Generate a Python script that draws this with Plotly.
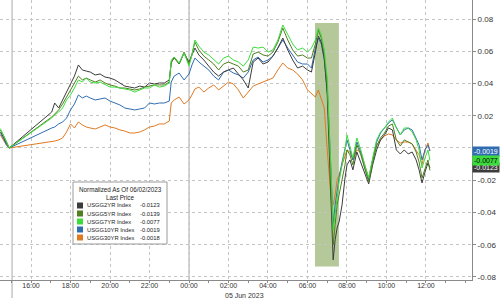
import plotly.graph_objects as go

# ---------------- data ----------------
# time in hours relative to 00:00 on 05 Jun 2023
friday_hours = [-9.55, -9.4, -9.25, -9.1]
session_hours = [
    -6.95, -6.8, -6.6, -6.4, -6.2, -6.0, -5.8, -5.6, -5.4, -5.2,
    -5.0, -4.75, -4.5, -4.25, -4.0, -3.75, -3.5, -3.25, -3.0, -2.75,
    -2.5, -2.25, -2.0, -1.75, -1.5, -1.25, -1.0, -0.9, -0.75, -0.5,
    -0.25, 0.0, 0.15, 0.3, 0.5, 0.75, 1.0, 1.25, 1.5, 1.75,
    2.0, 2.25, 2.5, 2.75, 3.0, 3.25, 3.5, 3.75, 4.0, 4.25,
    4.5, 4.75, 5.0, 5.25, 5.5, 5.75, 6.0, 6.2, 6.4, 6.55,
    6.7, 6.85, 7.0, 7.1, 7.2, 7.3, 7.4, 7.5, 7.6, 7.75,
    7.9, 8.0, 8.15, 8.3, 8.5, 8.7, 8.9, 9.1, 9.3, 9.5,
    9.7, 9.9, 10.1, 10.3, 10.5, 10.7, 10.9, 11.1, 11.3, 11.5,
    11.65, 11.8, 11.95, 12.1, 12.2,
]

usgg2yr_friday = [0.010, 0.007, 0.003, 0.0]
usgg2yr = [
    0.0223, 0.0279, 0.0248, 0.0298, 0.0347, 0.0397, 0.0446, 0.0515, 0.0484, 0.0477,
    0.0471, 0.0453, 0.0459, 0.0440, 0.0434, 0.0422, 0.0403, 0.0384, 0.0378, 0.0372,
    0.0384, 0.0378, 0.0403, 0.0397, 0.0403, 0.0403, 0.0422, 0.0527, 0.0564, 0.0521,
    0.0589, 0.0533, 0.0577, 0.0620, 0.0577, 0.0546, 0.0508, 0.0471, 0.0446, 0.0471,
    0.0484, 0.0496, 0.0459, 0.0422, 0.0372, 0.0533, 0.0558, 0.0521, 0.0533, 0.0570,
    0.0620, 0.0682, 0.0608, 0.0546, 0.0496, 0.0508, 0.0484, 0.0471, 0.0595, 0.0694,
    0.0657, 0.0558, 0.0329, -0.0012, -0.0415, -0.0694, -0.0570, -0.0496, -0.0459, -0.0353,
    -0.0186, -0.0105, -0.0074, -0.0136, -0.0025, -0.0087, -0.0149, -0.0223, -0.0105, -0.0012,
    0.0050, 0.0081, 0.0124, 0.0112, -0.0012, -0.0037, -0.0012, -0.0037, -0.0025, -0.0074,
    -0.0136, -0.0217, -0.0149, -0.0093, -0.0123,
]

usgg5yr_friday = [0.011, 0.008, 0.004, 0.0]
usgg5yr = [
    0.0192, 0.0211, 0.0236, 0.0273, 0.0316, 0.0360, 0.0397, 0.0446, 0.0422, 0.0434,
    0.0422, 0.0409, 0.0422, 0.0403, 0.0391, 0.0384, 0.0372, 0.0372, 0.0366, 0.0360,
    0.0366, 0.0378, 0.0384, 0.0391, 0.0391, 0.0391, 0.0409, 0.0533, 0.0558, 0.0521,
    0.0595, 0.0521, 0.0583, 0.0657, 0.0608, 0.0570, 0.0546, 0.0521, 0.0484, 0.0521,
    0.0533, 0.0521, 0.0508, 0.0471, 0.0484, 0.0583, 0.0595, 0.0577, 0.0570, 0.0595,
    0.0657, 0.0744, 0.0670, 0.0608, 0.0570, 0.0577, 0.0558, 0.0558, 0.0645, 0.0732,
    0.0682, 0.0583, 0.0391, 0.0081, -0.0322, -0.0601, -0.0477, -0.0353, -0.0291, -0.0198,
    -0.0105, -0.0012, -0.0043, -0.0105, 0.0019, -0.0043, -0.0136, -0.0211, -0.0087, 0.0012,
    0.0062, 0.0093, 0.0136, 0.0149, 0.0050, 0.0012, 0.0050, 0.0037, 0.0025, -0.0025,
    -0.0087, -0.0186, -0.0124, -0.0074, -0.0139,
]

usgg7yr_friday = [0.012, 0.008, 0.003, 0.0]
usgg7yr = [
    0.0186, 0.0205, 0.0223, 0.0248, 0.0298, 0.0329, 0.0372, 0.0422, 0.0409, 0.0434,
    0.0409, 0.0403, 0.0409, 0.0391, 0.0378, 0.0378, 0.0372, 0.0366, 0.0360, 0.0347,
    0.0360, 0.0372, 0.0372, 0.0391, 0.0378, 0.0384, 0.0403, 0.0546, 0.0564, 0.0527,
    0.0589, 0.0508, 0.0577, 0.0670, 0.0632, 0.0595, 0.0577, 0.0546, 0.0521, 0.0558,
    0.0570, 0.0546, 0.0533, 0.0508, 0.0546, 0.0626, 0.0620, 0.0626, 0.0595, 0.0608,
    0.0670, 0.0763, 0.0701, 0.0645, 0.0608, 0.0620, 0.0595, 0.0620, 0.0670, 0.0744,
    0.0701, 0.0608, 0.0434, 0.0174, -0.0167, -0.0508, -0.0397, -0.0291, -0.0211, -0.0105,
    -0.0012, 0.0081, 0.0000, -0.0062, 0.0062, -0.0012, -0.0105, -0.0186, -0.0062, 0.0050,
    0.0099, 0.0124, 0.0161, 0.0186, 0.0124, 0.0081, 0.0124, 0.0124, 0.0099, 0.0050,
    -0.0012, -0.0124, -0.0062, -0.0012, -0.0077,
]

usgg10yr_friday = [0.009, 0.006, 0.002, 0.0]
usgg10yr = [
    0.0124, 0.0130, 0.0149, 0.0161, 0.0186, 0.0236, 0.0273, 0.0329, 0.0310, 0.0322,
    0.0310, 0.0298, 0.0304, 0.0310, 0.0291, 0.0279, 0.0267, 0.0248, 0.0242, 0.0236,
    0.0242, 0.0248, 0.0279, 0.0273, 0.0279, 0.0279, 0.0291, 0.0409, 0.0446, 0.0465,
    0.0422, 0.0459, 0.0515, 0.0558, 0.0533, 0.0508, 0.0484, 0.0446, 0.0422, 0.0471,
    0.0484, 0.0465, 0.0453, 0.0434, 0.0471, 0.0546, 0.0564, 0.0533, 0.0546, 0.0570,
    0.0620, 0.0670, 0.0620, 0.0577, 0.0533, 0.0521, 0.0521, 0.0496, 0.0620, 0.0682,
    0.0645, 0.0546, 0.0360, 0.0112, -0.0229, -0.0477, -0.0353, -0.0260, -0.0186, -0.0087,
    0.0000, 0.0050, -0.0012, -0.0074, 0.0037, -0.0025, -0.0124, -0.0198, -0.0074, 0.0037,
    0.0093, 0.0124, 0.0155, 0.0174, 0.0124, 0.0081, 0.0112, 0.0124, 0.0112, 0.0062,
    0.0019, -0.0074, -0.0012, 0.0019, -0.0019,
]

usgg30yr_friday = [0.008, 0.005, 0.002, 0.0]
usgg30yr = [
    0.0037, 0.0043, 0.0050, 0.0062, 0.0099, 0.0149, 0.0124, 0.0161, 0.0143, 0.0130,
    0.0124, 0.0118, 0.0130, 0.0143, 0.0130, 0.0124, 0.0112, 0.0105, 0.0093, 0.0093,
    0.0099, 0.0112, 0.0130, 0.0136, 0.0149, 0.0149, 0.0167, 0.0279, 0.0298, 0.0316,
    0.0273, 0.0298, 0.0329, 0.0366, 0.0378, 0.0347, 0.0372, 0.0391, 0.0360, 0.0384,
    0.0409, 0.0397, 0.0360, 0.0310, 0.0347, 0.0384, 0.0397, 0.0409, 0.0422, 0.0434,
    0.0484, 0.0527, 0.0496, 0.0484, 0.0459, 0.0422, 0.0360, 0.0335, 0.0316, 0.0360,
    0.0310, 0.0248, -0.0012, -0.0198, -0.0322, -0.0353, -0.0291, -0.0198, -0.0167, -0.0105,
    -0.0043, -0.0012, -0.0025, -0.0074, -0.0012, -0.0025, -0.0105, -0.0186, -0.0074, 0.0019,
    0.0050, 0.0074, 0.0087, 0.0081, 0.0050, 0.0031, 0.0037, 0.0037, 0.0025, -0.0012,
    -0.0043, -0.0105, -0.0012, 0.0031, -0.0018,
]

series_names = ["USGG2YR Index", "USGG5YR Index", "USGG7YR Index", "USGG10YR Index", "USGG30YR Index"]
series_colors = ["#3c3c3c", "#4f7f1f", "#3ddc3d", "#2f6db3", "#e07a22"]
series_values = [usgg2yr, usgg5yr, usgg7yr, usgg10yr, usgg30yr]
series_friday = [usgg2yr_friday, usgg5yr_friday, usgg7yr_friday, usgg10yr_friday, usgg30yr_friday]
draw_order = [4, 3, 0, 1, 2]

x_tick_hours = [-8, -6, -4, -2, 0, 2, 4, 6, 8, 10, 12]
x_tick_labels = ["16:00", "18:00", "20:00", "22:00", "00:00", "02:00", "04:00", "06:00", "08:00", "10:00", "12:00"]
y_tick_values = [-0.08, -0.06, -0.04, -0.02, 0.0, 0.02, 0.04, 0.06, 0.08]
# the 0.00 label sits under the last-value badges in the reference
y_tick_labels = ["-0.08", "-0.06", "-0.04", "-0.02", "", "0.02", "0.04", "0.06", "0.08"]

session_break_hours = [-8.96, 0.0]
highlight_hours = [6.38, 7.59]
highlight_values = [-0.0735, 0.0775]
date_label = "05 Jun 2023"
date_label_hour = 1.72
legend_title = "Normalized As Of 06/02/2023"
legend_subtitle = "Last Price"
badge_series = [3, 0, 2]  # 10YR, 2YR, 7YR
badge_text_colors = ["#ffffff", "#ffffff", "#000000"]

FONT = "Liberation Sans, Arial, sans-serif"
LEG_SIZE = 5.8

# ---------------- figure ----------------
fig = go.Figure()
for i in draw_order:
    fig.add_trace(go.Scatter(
        x=friday_hours + session_hours,
        y=series_friday[i] + series_values[i],
        mode="lines",
        line=dict(color=series_colors[i], width=1),
        name=series_names[i],
        showlegend=False,
        hoverinfo="skip",
    ))

shapes = []
shapes.append(dict(type="rect", xref="x", yref="y",
                   x0=highlight_hours[0], x1=highlight_hours[1],
                   y0=highlight_values[0], y1=highlight_values[1],
                   fillcolor="#b4c89a", line=dict(width=0), layer="below"))
shapes.append(dict(type="line", xref="x", yref="paper", x0=session_break_hours[0], x1=session_break_hours[0],
                   y0=-0.07, y1=1, line=dict(color="#a8a8a8", width=1), layer="below"))
shapes.append(dict(type="line", xref="x", yref="paper", x0=session_break_hours[1], x1=session_break_hours[1],
                   y0=0, y1=1, line=dict(color="#a8a8a8", width=1), layer="below"))

annotations = []
PW, PH = 472.0, 280.0
def px(xp):
    return xp / PW
def py(yp):
    return 1 - yp / PH

# legend box
shapes.append(dict(type="rect", xref="paper", yref="paper", x0=px(73), x1=px(167), y0=py(244), y1=py(182),
                   fillcolor="white", line=dict(color="#9a9a9a", width=1), layer="above"))
annotations.append(dict(xref="paper", yref="paper", x=px(120), y=py(189), text=legend_title, showarrow=False,
                        xanchor="center", yanchor="middle", font=dict(family=FONT, size=LEG_SIZE + 0.5, color="#222")))
annotations.append(dict(xref="paper", yref="paper", x=px(120), y=py(197), text=legend_subtitle, showarrow=False,
                        xanchor="center", yanchor="middle", font=dict(family=FONT, size=LEG_SIZE + 0.5, color="#222")))
row0, row_step = 205.5, 8.0
for k in range(len(series_names)):
    yc = row0 + k * row_step
    shapes.append(dict(type="rect", xref="paper", yref="paper", x0=px(77), x1=px(83), y0=py(yc + 3), y1=py(yc - 3),
                       fillcolor=series_colors[k], line=dict(width=0), layer="above"))
    annotations.append(dict(xref="paper", yref="paper", x=px(84.5), y=py(yc), text=series_names[k], showarrow=False,
                            xanchor="left", yanchor="middle", font=dict(family=FONT, size=LEG_SIZE, color="#222")))
    annotations.append(dict(xref="paper", yref="paper", x=px(162), y=py(yc), text="%.4f" % series_values[k][-1],
                            showarrow=False, xanchor="right", yanchor="middle",
                            font=dict(family=FONT, size=LEG_SIZE, color="#222")))

# last-value badges
for j, i in enumerate(badge_series):
    annotations.append(dict(xref="paper", yref="y", x=1.0, y=series_values[i][-1], text="%.4f" % series_values[i][-1],
                            showarrow=False, xanchor="left", yanchor="middle", bgcolor=series_colors[i],
                            borderpad=1, font=dict(family=FONT, size=7, color=badge_text_colors[j])))

annotations.append(dict(xref="x", yref="paper", x=date_label_hour, y=py(295), text=date_label, showarrow=False,
                        xanchor="left", yanchor="middle", font=dict(family=FONT, size=7, color="#333")))

fig.update_layout(
    width=500, height=298,
    margin=dict(l=0, r=28, t=0, b=18, pad=0),
    paper_bgcolor="white", plot_bgcolor="white",
    showlegend=False,
    shapes=shapes, annotations=annotations,
    font=dict(family=FONT, size=8, color="#333"),
    xaxis=dict(
        range=[-9.57, 14.33], tickmode="array", tickvals=x_tick_hours, ticktext=x_tick_labels,
        showgrid=True, gridcolor="#c4c4c4", griddash="dot", gridwidth=1,
        zeroline=False, showline=True, linecolor="#8a8a8a", linewidth=1,
        ticks="outside", ticklen=2, tickcolor="#8a8a8a", ticklabelstandoff=-3,
        tickfont=dict(family=FONT, size=7, color="#333"),
        minor=dict(tick0=0, dtick=1, ticks="outside", ticklen=2, tickcolor="#8a8a8a", showgrid=False),
        fixedrange=True,
    ),
    yaxis=dict(
        range=[-0.0819, 0.0918], side="right", tickmode="array", tickvals=y_tick_values, ticktext=y_tick_labels,
        showgrid=True, gridcolor="#c4c4c4", griddash="dot", gridwidth=1,
        zeroline=False, showline=True, linecolor="#8a8a8a", linewidth=1,
        ticks="outside", ticklen=3, tickcolor="#8a8a8a",
        tickfont=dict(family=FONT, size=8, color="#333"),
        fixedrange=True,
    ),
)

fig.write_html("out.html", config={"displayModeBar": False})
